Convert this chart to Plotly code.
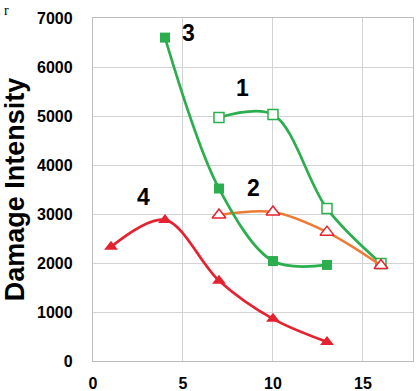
import plotly.graph_objects as go

s1_x = [7, 10, 13, 16]
s1_y = [4970, 5030, 3110, 1990]
s2_x = [7, 10, 13, 16]
s2_y = [2980, 3040, 2630, 1950]
s3_x = [4, 7, 10, 13]
s3_y = [6600, 3520, 2040, 1960]
s4_x = [1, 4, 7, 10, 13]
s4_y = [2330, 2880, 1640, 860, 390]

label_text = ["1", "2", "3", "4"]
label_x = [8.3, 8.9, 5.3, 2.8]
label_y = [5570, 3530, 6700, 3350]

x_ticks = [0, 5, 10, 15]
y_ticks = [0, 1000, 2000, 3000, 4000, 5000, 6000, 7000]

GREEN = "#2BAE4E"
ORANGE = "#EE7B35"
RED = "#E52330"
FONT = "Liberation Sans, Arial"

fig = go.Figure()
fig.add_trace(go.Scatter(x=s1_x, y=s1_y, mode="lines+markers",
    line=dict(color=GREEN, width=2.7, shape="spline", smoothing=0.95),
    marker=dict(symbol="square", size=10, color="white", line=dict(color=GREEN, width=1.5))))
fig.add_trace(go.Scatter(x=s2_x, y=s2_y, mode="lines+markers",
    line=dict(color=ORANGE, width=2.7, shape="spline", smoothing=0.95),
    marker=dict(symbol="triangle-up", size=12, color="white", line=dict(color=RED, width=1.5))))
fig.add_trace(go.Scatter(x=s3_x, y=s3_y, mode="lines+markers",
    line=dict(color=GREEN, width=2.7, shape="spline", smoothing=0.95),
    marker=dict(symbol="square", size=10, color=GREEN)))
fig.add_trace(go.Scatter(x=s4_x, y=s4_y, mode="lines+markers",
    line=dict(color=RED, width=2.7, shape="spline", smoothing=0.95),
    marker=dict(symbol="triangle-up", size=12, color=RED)))

for t, x, y in zip(label_text, label_x, label_y):
    fig.add_annotation(x=x, y=y, text=t, showarrow=False,
        font=dict(family=FONT, size=23, color="black", weight="bold"))

fig.add_annotation(xref="paper", yref="paper", x=-0.285, y=1.05, text="r", showarrow=False,
    font=dict(family="Liberation Serif, Times New Roman", size=14, color="black"), xanchor="left", yanchor="top")

fig.update_layout(
    width=417, height=391,
    margin=dict(l=93, r=4, t=18, b=30, autoexpand=False),
    paper_bgcolor="white", plot_bgcolor="white",
    showlegend=False,
    xaxis=dict(range=[0, 17.78], tickvals=x_ticks, showgrid=True, gridcolor="#D3D3D3", gridwidth=1.3,
               zeroline=False, showline=True, linecolor="#BDBDBD", linewidth=1.3, mirror=True,
               tickfont=dict(family=FONT, size=16, color="black", weight="bold"),
               ticks="outside", ticklen=8, tickcolor="rgba(0,0,0,0)"),
    yaxis=dict(range=[0, 7000], tickvals=y_ticks, showgrid=True, gridcolor="#D3D3D3", gridwidth=1.3,
               zeroline=False, showline=True, linecolor="#BDBDBD", linewidth=1.3, mirror=True,
               tickfont=dict(family=FONT, size=16, color="black", weight="bold"),
               ticks="outside", ticklen=16, tickcolor="rgba(0,0,0,0)",
               title=dict(text="Damage Intensity", standoff=6,
                          font=dict(family=FONT, size=27, color="black", weight="bold"))),
)

fig.write_html("out.html", config={"displayModeBar": False},
               post_script="document.body.style.margin='0';document.body.style.padding='0';")
